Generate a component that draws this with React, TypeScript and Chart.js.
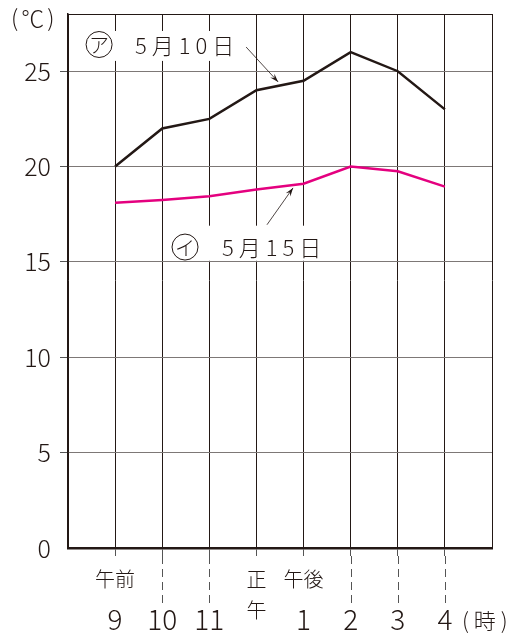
import React, { useEffect, useRef } from "react";
import { Chart, registerables } from "chart.js";

Chart.register(...registerables);

const hourLabels = ["9", "10", "11", "", "1", "2", "3", "4"];
const may10 = [20, 22, 22.5, 24, 24.5, 26, 25, 23];
const may15 = [18.1, 18.25, 18.45, 18.8, 19.1, 20, 19.75, 18.95];
const yMin = 0;
const yMax = 28;
const yStep = 5;
const dashedIdx = [1, 2, 5, 6, 7];
const labelA = "5月10日";
const labelB = "5月15日";

const JP = "'Noto Sans CJK JP', 'Noto Sans', sans-serif";
const DARK = "#231815";
const GRID_H = "#7d7876";
const MAGENTA = "#e4007f";

const extras = {
  id: "extras",
  afterDatasetsDraw(chart: any) {
    const { ctx } = chart;
    const xs = chart.scales.x;
    const ys = chart.scales.y;
    const px = (v: number) => xs.getPixelForValue(v);
    const py = (v: number) => ys.getPixelForValue(v);
    ctx.save();
    ctx.fillStyle = DARK;
    ctx.strokeStyle = DARK;

    // dashed extensions below the axis
    ctx.lineWidth = 1;
    ctx.strokeStyle = "#555";
    ctx.setLineDash([8, 5]);
    dashedIdx.forEach((i) => {
      const x = Math.round(px(i)) + 0.5;
      ctx.beginPath();
      ctx.moveTo(x, ys.bottom + 8);
      ctx.lineTo(x, ys.bottom + 60);
      ctx.stroke();
    });
    ctx.setLineDash([]);

    // text under axis
    ctx.fillStyle = DARK;
    ctx.font = `300 20px ${JP}`;
    ctx.textAlign = "center";
    ctx.textBaseline = "middle";
    ctx.fillText("午前", px(0), ys.bottom + 31);
    ctx.fillText("午後", px(4), ys.bottom + 31);
    ctx.fillText("正", px(3), ys.bottom + 31);
    ctx.fillText("午", px(3), ys.bottom + 62);
    ctx.textAlign = "left";
    (ctx as any).letterSpacing = "5px";
    ctx.font = `300 22px ${JP}`;
    ctx.fillText("(時)", px(7) + 17, ys.bottom + 73);
    (ctx as any).letterSpacing = "3px";
    ctx.font = `300 23px ${JP}`;
    ctx.fillText("(℃)", 11, 18);
    (ctx as any).letterSpacing = "0px";

    // white boxes
    ctx.fillStyle = "#fff";
    ctx.fillRect(px(-0.66), py(27.11), px(2.736) - px(-0.66), py(25.54) - py(27.11));
    ctx.fillRect(px(1.165), py(16.9), px(4.03) - px(1.165), py(15.06) - py(16.9));

    const circled = (cx: number, cy: number, ch: string) => {
      ctx.beginPath();
      ctx.lineWidth = 1;
      ctx.strokeStyle = DARK;
      ctx.arc(cx, cy, 13, 0, Math.PI * 2);
      ctx.stroke();
      ctx.fillStyle = DARK;
      ctx.font = `300 20px ${JP}`;
      ctx.textAlign = "center";
      ctx.textBaseline = "middle";
      ctx.fillText(ch, cx, cy + 1);
    };
    circled(px(-0.34), py(26.4), "ア");
    circled(px(1.484), py(15.78), "イ");

    ctx.font = `300 22px ${JP}`;
    ctx.textAlign = "left";
    ctx.textBaseline = "middle";
    (ctx as any).letterSpacing = "5px";
    ctx.fillText(labelA, px(0.42), py(26.38) + 1);
    ctx.fillText(labelB, px(2.27), py(15.78) + 1);
    (ctx as any).letterSpacing = "0px";

    const arrow = (x1: number, y1: number, x2: number, y2: number) => {
      const a = px(x1), b = py(y1), c = px(x2), d = py(y2);
      ctx.strokeStyle = DARK;
      ctx.fillStyle = DARK;
      ctx.lineWidth = 0.8;
      ctx.beginPath();
      ctx.moveTo(a, b);
      ctx.lineTo(c, d);
      ctx.stroke();
      const ang = Math.atan2(d - b, c - a);
      const L = 9, W = 0.32;
      ctx.beginPath();
      ctx.moveTo(c, d);
      ctx.lineTo(c - L * Math.cos(ang - W), d - L * Math.sin(ang - W));
      ctx.lineTo(c - L * 0.6 * Math.cos(ang), d - L * 0.6 * Math.sin(ang));
      ctx.lineTo(c - L * Math.cos(ang + W), d - L * Math.sin(ang + W));
      ctx.closePath();
      ctx.fill();
    };
    arrow(2.78, 26.27, 3.46, 24.44);
    arrow(3.224, 16.95, 3.776, 18.88);

    ctx.restore();
  },
};

export default function App() {
  const ref = useRef<HTMLCanvasElement | null>(null);
  useEffect(() => {
    if (!ref.current) return;
    const chart = new Chart(ref.current, {
      type: "line",
      data: {
        datasets: [
          {
            label: labelA,
            data: may10.map((v, i) => ({ x: i, y: v })),
            borderColor: DARK,
            borderWidth: 2.5,
            pointRadius: 0,
            tension: 0,
          },
          {
            label: labelB,
            data: may15.map((v, i) => ({ x: i, y: v })),
            borderColor: MAGENTA,
            borderWidth: 2.5,
            pointRadius: 0,
            tension: 0,
          },
        ],
      },
      options: {
        responsive: false,
        animation: false,
        devicePixelRatio: 1,
        layout: { padding: { top: 14, right: 27, left: 0, bottom: 0 } },
        plugins: { legend: { display: false }, tooltip: { enabled: false } },
        scales: {
          x: {
            type: "linear",
            min: -1,
            max: 8,
            afterFit: (s: any) => {
              s.height = 89;
              s.paddingLeft = 0;
              s.paddingRight = 0;
            },
            ticks: {
              stepSize: 1,
              autoSkip: false,
              maxRotation: 0,
              padding: 47,
              color: DARK,
              font: { family: JP, size: 28, weight: "300" },
              callback: (v: any) => (v >= 0 && v <= 7 ? hourLabels[v] : ""),
            },
            grid: {
              color: DARK,
              lineWidth: 1,
              tickLength: 8,
              tickColor: (c: any) =>
                c.tick && (c.tick.value === -1 || c.tick.value === 8) ? "transparent" : "#555",
            },
            border: { color: DARK, width: 2.5 },
          },
          y: {
            min: yMin,
            max: yMax,
            afterFit: (s: any) => {
              s.width = 68;
              s.paddingTop = 0;
              s.paddingBottom = 0;
            },
            ticks: {
              stepSize: yStep,
              padding: 9,
              color: DARK,
              font: { family: JP, size: 25, weight: "300" },
              callback: (v: any) => (v === yMax ? "" : String(v)),
            },
            grid: {
              color: (c: any) => (c.tick && c.tick.value === yMax ? DARK : GRID_H),
              lineWidth: 1,
              tickLength: 8,
              tickColor: (c: any) =>
                c.tick && (c.tick.value === 0 || c.tick.value === yMax) ? "transparent" : "#555",
            },
            border: { color: DARK, width: 1.5 },
          },
        },
      },
      plugins: [extras],
    });
    return () => chart.destroy();
  }, []);
  return (
    <div style={{ position: "fixed", left: 0, top: 0, width: 519, height: 637, background: "#fff" }}>
      <canvas ref={ref} width={519} height={637} style={{ display: "block" }} />
    </div>
  );
}
